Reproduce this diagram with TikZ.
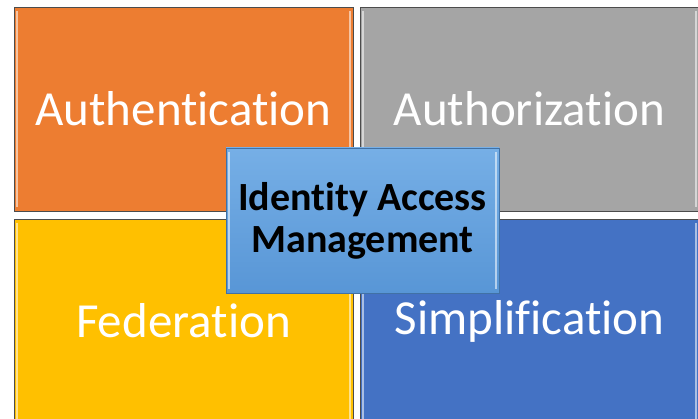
\documentclass[tikz,border=0pt]{standalone}
\usepackage{fontspec}
\setmainfont{Carlito}[Ligatures={NoCommon}]
\usetikzlibrary{positioning}

% tile colours
\definecolor{tileorange}{RGB}{237,125,49}
\definecolor{tilegray}{RGB}{165,165,165}
\definecolor{tileyellow}{RGB}{255,192,0}
\definecolor{tileblue}{RGB}{68,114,196}
\definecolor{hubtop}{RGB}{118,175,230}
\definecolor{hubbottom}{RGB}{88,150,214}
\definecolor{hubedge}{RGB}{65,113,165}

\begin{document}
\begin{tikzpicture}[%
    x=1pt, y=-1pt,              % Work in pixels, top-down
    ]
% -------------------------------------------------
% Box styles
\tikzset{
  bevel/.style={path picture={
      \draw[white, opacity=0.55, line width=1.6pt]
        ([xshift=3pt,yshift=-4pt]path picture bounding box.north west) --
        ([xshift=3pt,yshift=4pt]path picture bounding box.south west)
        ([xshift=-3pt,yshift=-4pt]path picture bounding box.north east) --
        ([xshift=-3pt,yshift=4pt]path picture bounding box.south east);}},
  tile/.style={draw=black!70, line width=0.9pt, bevel, minimum width=339pt,
    minimum height=204pt, inner sep=0pt, text=white,
    font=\fontsize{49}{58}\selectfont},
  hub/.style={draw=hubedge, line width=0.8pt, bevel, top color=hubtop,
    bottom color=hubbottom, minimum width=273pt, minimum height=145pt,
    align=center, font=\fontsize{40}{42}\selectfont\bfseries}
}
\clip (0,0) rectangle (698,419);
% -------------------------------------------------
% The four tiles
\node [tile, fill=tileorange] (authn) at (183.5,109) {Authentication};
\node [tile, fill=tilegray] (authz) at (529.5,109) {Authorization};
\node [tile, fill=tileyellow] (fed) at (183.5,321) {Federation};
\node [tile, fill=tileblue] (simp) at (529.5,321) {Simplification};

% Centre box on top
\node [hub] (iam) at (362.5,220.5) {Identity Access\\Management};
% -------------------------------------------------
\end{tikzpicture}
\end{document}
